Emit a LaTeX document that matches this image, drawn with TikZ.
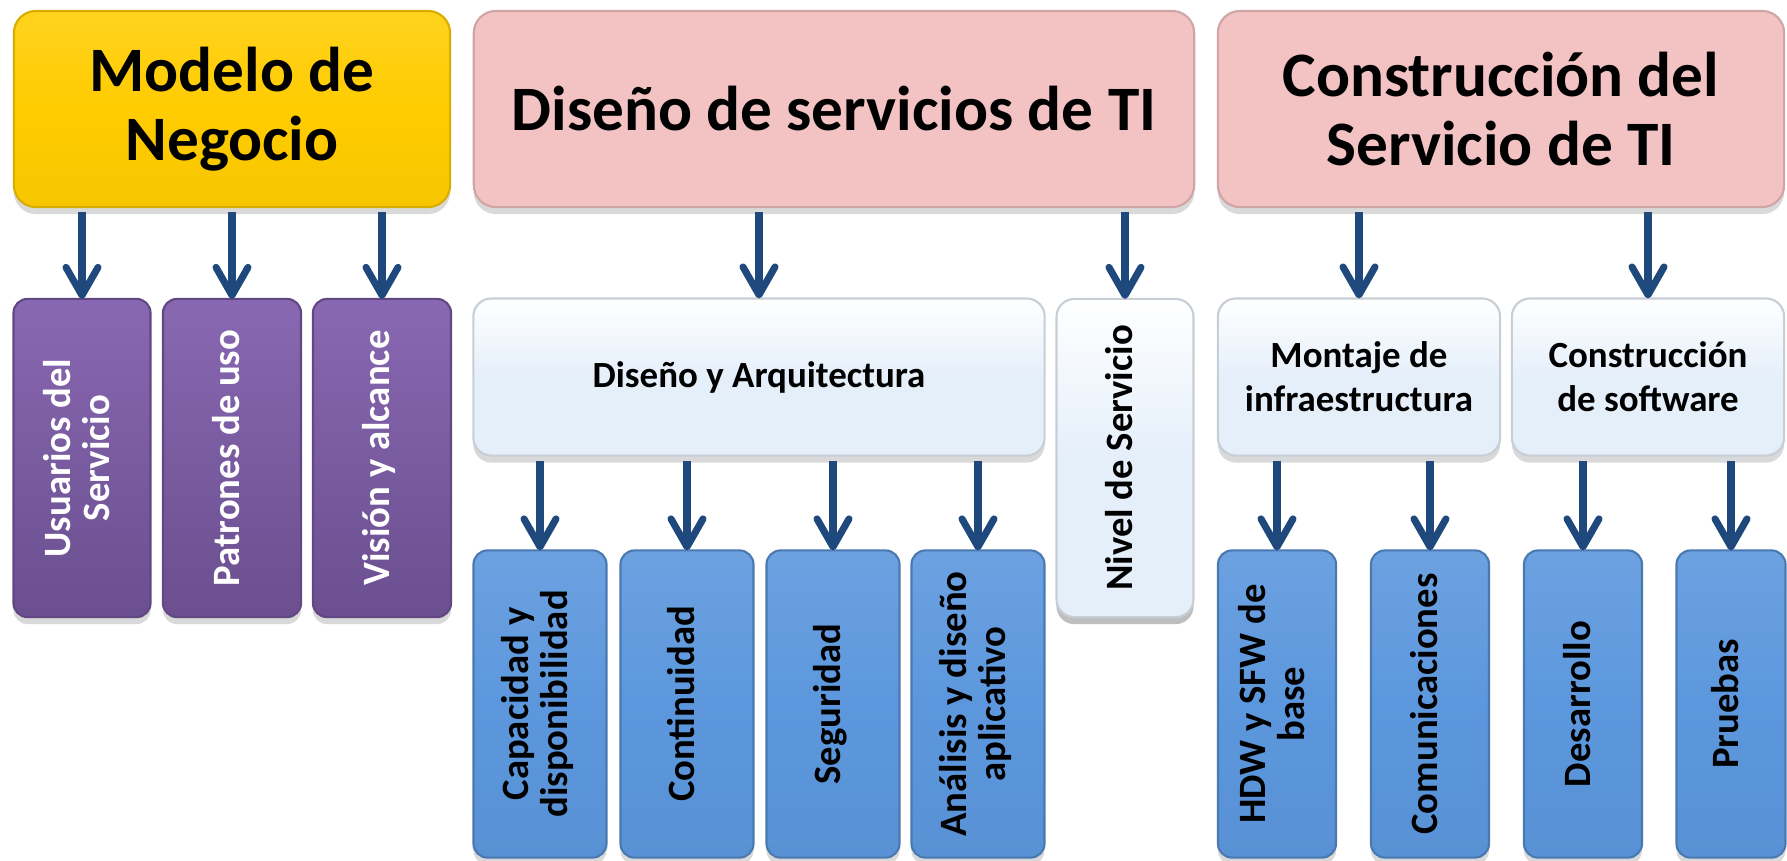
\documentclass[tikz,border=0pt]{standalone}
\usepackage{fontspec}
\setmainfont{Carlito}
\usepackage{graphicx}
\usetikzlibrary{arrows.meta,shadows}

\definecolor{oro}{RGB}{255,204,0}
\definecolor{rosa}{RGB}{243,194,194}
\definecolor{celeste}{RGB}{229,239,250}
\definecolor{morado}{RGB}{130,96,174}
\definecolor{azul}{RGB}{92,151,221}
\definecolor{flecha}{RGB}{31,73,125}

\newcommand{\vtexto}[1]{\rotatebox{90}{\begin{tabular}{@{}c@{}}#1\end{tabular}}}

\begin{document}
\begin{tikzpicture}[x=0.01cm, y=-0.01cm,
        caja/.style={inner sep=0pt, outer sep=0pt, line width=0.6pt,
            drop shadow={opacity=0.3, shadow xshift=0pt, shadow yshift=-2pt}},
        titulo/.style={caja, rounded corners=0.22cm, minimum height=1.96cm, align=center,
            font=\fontsize{18}{19.5}\selectfont\bfseries},
        medio/.style={caja, rounded corners=0.18cm, draw=celeste!70!gray, top color=white, bottom color=celeste,
            middle color=celeste, align=center, font=\fontsize{10.5}{12.5}\selectfont\bfseries},
        alto/.style={caja, rounded corners=0.14cm, minimum height=3.18cm, font=\fontsize{11}{11.2}\selectfont\bfseries},
        lila/.style={alto, draw=morado!75!black, top color=morado!95!white, bottom color=morado!82!black, text=white},
        hoja/.style={caja, rounded corners=0.14cm, minimum height=3.07cm, draw=azul!80!black,
            top color=azul!90!white, bottom color=azul!96!black, middle color=azul,
            font=\fontsize{11}{11.2}\selectfont\bfseries},
        baja/.style={draw=flecha, line width=2pt, shorten <=1.5pt,
            -{Straight Barb[length=2.8mm, width=3.2mm, round]}}]
        \useasboundingbox (0,0) rectangle (1787,860);

        \node[titulo, minimum width=4.36cm, draw=oro!85!black, top color=oro!88!white, bottom color=oro!97!black, middle color=oro] (modelo) at (232,109) {Modelo de\\Negocio};
        \node[titulo, minimum width=7.2cm, draw=rosa!85!black, fill=rosa] (diseno) at (834,109) {Diseño de servicios de TI};
        \node[titulo, minimum width=5.66cm, draw=rosa!85!black, fill=rosa] (constr) at (1501,109) {Construcción del\\Servicio de TI};

        \node[lila, minimum width=1.37cm] (usuarios) at (82,458) {\vtexto{Usuarios del\\Servicio}};
        \node[lila, minimum width=1.38cm] (patrones) at (232,458) {\vtexto{Patrones de uso}};
        \node[lila, minimum width=1.38cm] (vision) at (382,458) {\vtexto{Visión y alcance}};

        \node[medio, minimum width=5.71cm, minimum height=1.57cm] (dya) at (759,377) {Diseño y Arquitectura};
        \node[alto, medio, minimum width=1.37cm, minimum height=3.18cm, font=\fontsize{11}{11.2}\selectfont\bfseries] (nivel) at (1125,458) {\vtexto{Nivel de Servicio}};
        \node[medio, minimum width=2.82cm, minimum height=1.57cm] (montaje) at (1359,377) {Montaje de\\infraestructura};
        \node[medio, minimum width=2.72cm, minimum height=1.57cm] (software) at (1648,377) {Construcción\\de software};

        \node[hoja, minimum width=1.33cm] (capacidad) at (540,704) {\vtexto{Capacidad y\\disponibilidad}};
        \node[hoja, minimum width=1.33cm] (continuidad) at (687,704) {\vtexto{Continuidad}};
        \node[hoja, minimum width=1.33cm] (seguridad) at (833,704) {\vtexto{Seguridad}};
        \node[hoja, minimum width=1.33cm] (analisis) at (978,704) {\vtexto{Análisis y diseño\\aplicativo}};
        \node[hoja, minimum width=1.18cm] (hdw) at (1277,704) {\vtexto{HDW y SFW de\\base}};
        \node[hoja, minimum width=1.18cm] (comunic) at (1430,704) {\vtexto{Comunicaciones}};
        \node[hoja, minimum width=1.18cm] (desarrollo) at (1583,704) {\vtexto{Desarrollo}};
        \node[hoja, minimum width=1.09cm] (pruebas) at (1731,704) {\vtexto{Pruebas}};

        \draw[baja] (modelo.south -| usuarios) -- (usuarios.north);
        \draw[baja] (modelo.south -| patrones) -- (patrones.north);
        \draw[baja] (modelo.south -| vision) -- (vision.north);
        \draw[baja] (diseno.south -| dya) -- (dya.north);
        \draw[baja] (diseno.south -| nivel) -- (nivel.north);
        \draw[baja] (constr.south -| montaje) -- (montaje.north);
        \draw[baja] (constr.south -| software) -- (software.north);
        \draw[baja] (dya.south -| capacidad) -- (capacidad.north);
        \draw[baja] (dya.south -| continuidad) -- (continuidad.north);
        \draw[baja] (dya.south -| seguridad) -- (seguridad.north);
        \draw[baja] (dya.south -| analisis) -- (analisis.north);
        \draw[baja] (montaje.south -| hdw) -- (hdw.north);
        \draw[baja] (montaje.south -| comunic) -- (comunic.north);
        \draw[baja] (software.south -| desarrollo) -- (desarrollo.north);
        \draw[baja] (software.south -| pruebas) -- (pruebas.north);
\end{tikzpicture}
\end{document}
